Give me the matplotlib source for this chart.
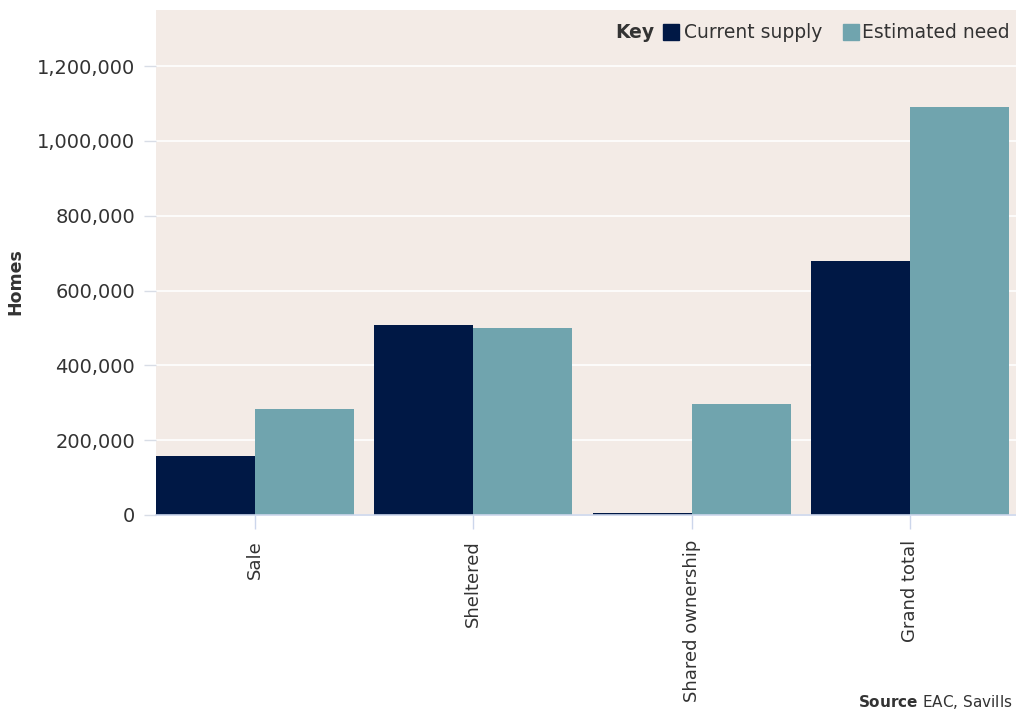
import matplotlib
matplotlib.use("Agg")
import matplotlib.pyplot as plt
from matplotlib.patches import Rectangle
import numpy as np

categories = ["Sale", "Sheltered", "Shared ownership", "Grand total"]
current_supply = [158000, 508000, 5000, 679000]
estimated_need = [283000, 500000, 297000, 1090000]
yticks = [0, 200000, 400000, 600000, 800000, 1000000, 1200000]
series_names = ["Current supply", "Estimated need"]

NAVY = "#001845"
TEAL = "#70A4AE"
BG = "#F3EBE6"
TXT = "#333333"
AXC = "#CCD6EB"

plt.rcParams['font.family'] = ['DejaVu Sans']

W, H = 1016, 713
fig = plt.figure(figsize=(W/100, H/100), dpi=100)
ax = fig.add_axes([156/W, 1-515/H, 1-156/W, (515-10)/H])
ax.set_facecolor(BG)

x = np.arange(len(categories))
bw = 0.452
ax.bar(x - bw/2, current_supply, width=bw, color=NAVY, zorder=3)
ax.bar(x + bw/2, estimated_need, width=bw, color=TEAL, zorder=3)

ax.set_xlim(-bw, 3 + bw + 7/219)
ax.set_ylim(0, 1350000)
ax.set_yticks(yticks)
ax.set_yticklabels([f"{v:,}" for v in yticks])
ax.yaxis.grid(True, color="white", linewidth=1.2, zorder=1)
ax.set_axisbelow(True)
ax.set_xticks(x)
ax.set_xticklabels(categories, rotation=90, va="top", ha="center")
for s in ["top", "right", "left"]:
    ax.spines[s].set_visible(False)
ax.spines["bottom"].set_color(AXC)
ax.spines["bottom"].set_linewidth(1.2)
ax.spines["bottom"].set_zorder(4)
ax.tick_params(axis="y", length=9, color="#D8DDE6", width=1, labelsize=14, labelcolor=TXT, pad=6)
ax.tick_params(axis="x", length=10, color=AXC, width=1, labelsize=13, labelcolor=TXT, pad=8)

fig.text(15/W, 1-282/H, "Homes", rotation=90, ha="center", va="center",
         fontsize=12.5, fontweight="bold", color=TXT)

# legend
ly = 1-32/H
fig.text(654/W, ly, "Key", ha="right", va="center", fontsize=13.5, fontweight="bold", color=TXT)
fig.patches.append(Rectangle((663/W, 1-40/H), 16/W, 16/H, transform=fig.transFigure, color=NAVY, figure=fig))
fig.text(684/W, ly, series_names[0], ha="left", va="center", fontsize=13.5, color=TXT)
fig.patches.append(Rectangle((843/W, 1-40/H), 16/W, 16/H, transform=fig.transFigure, color=TEAL, figure=fig))
fig.text(862/W, ly, series_names[1], ha="left", va="center", fontsize=13.5, color=TXT)

fig.text(1012/W, 2/H, r"$\bf{Source}$ EAC, Savills", ha="right", va="bottom", fontsize=11, color=TXT)

fig.savefig("out.png", dpi=100, facecolor="white")
